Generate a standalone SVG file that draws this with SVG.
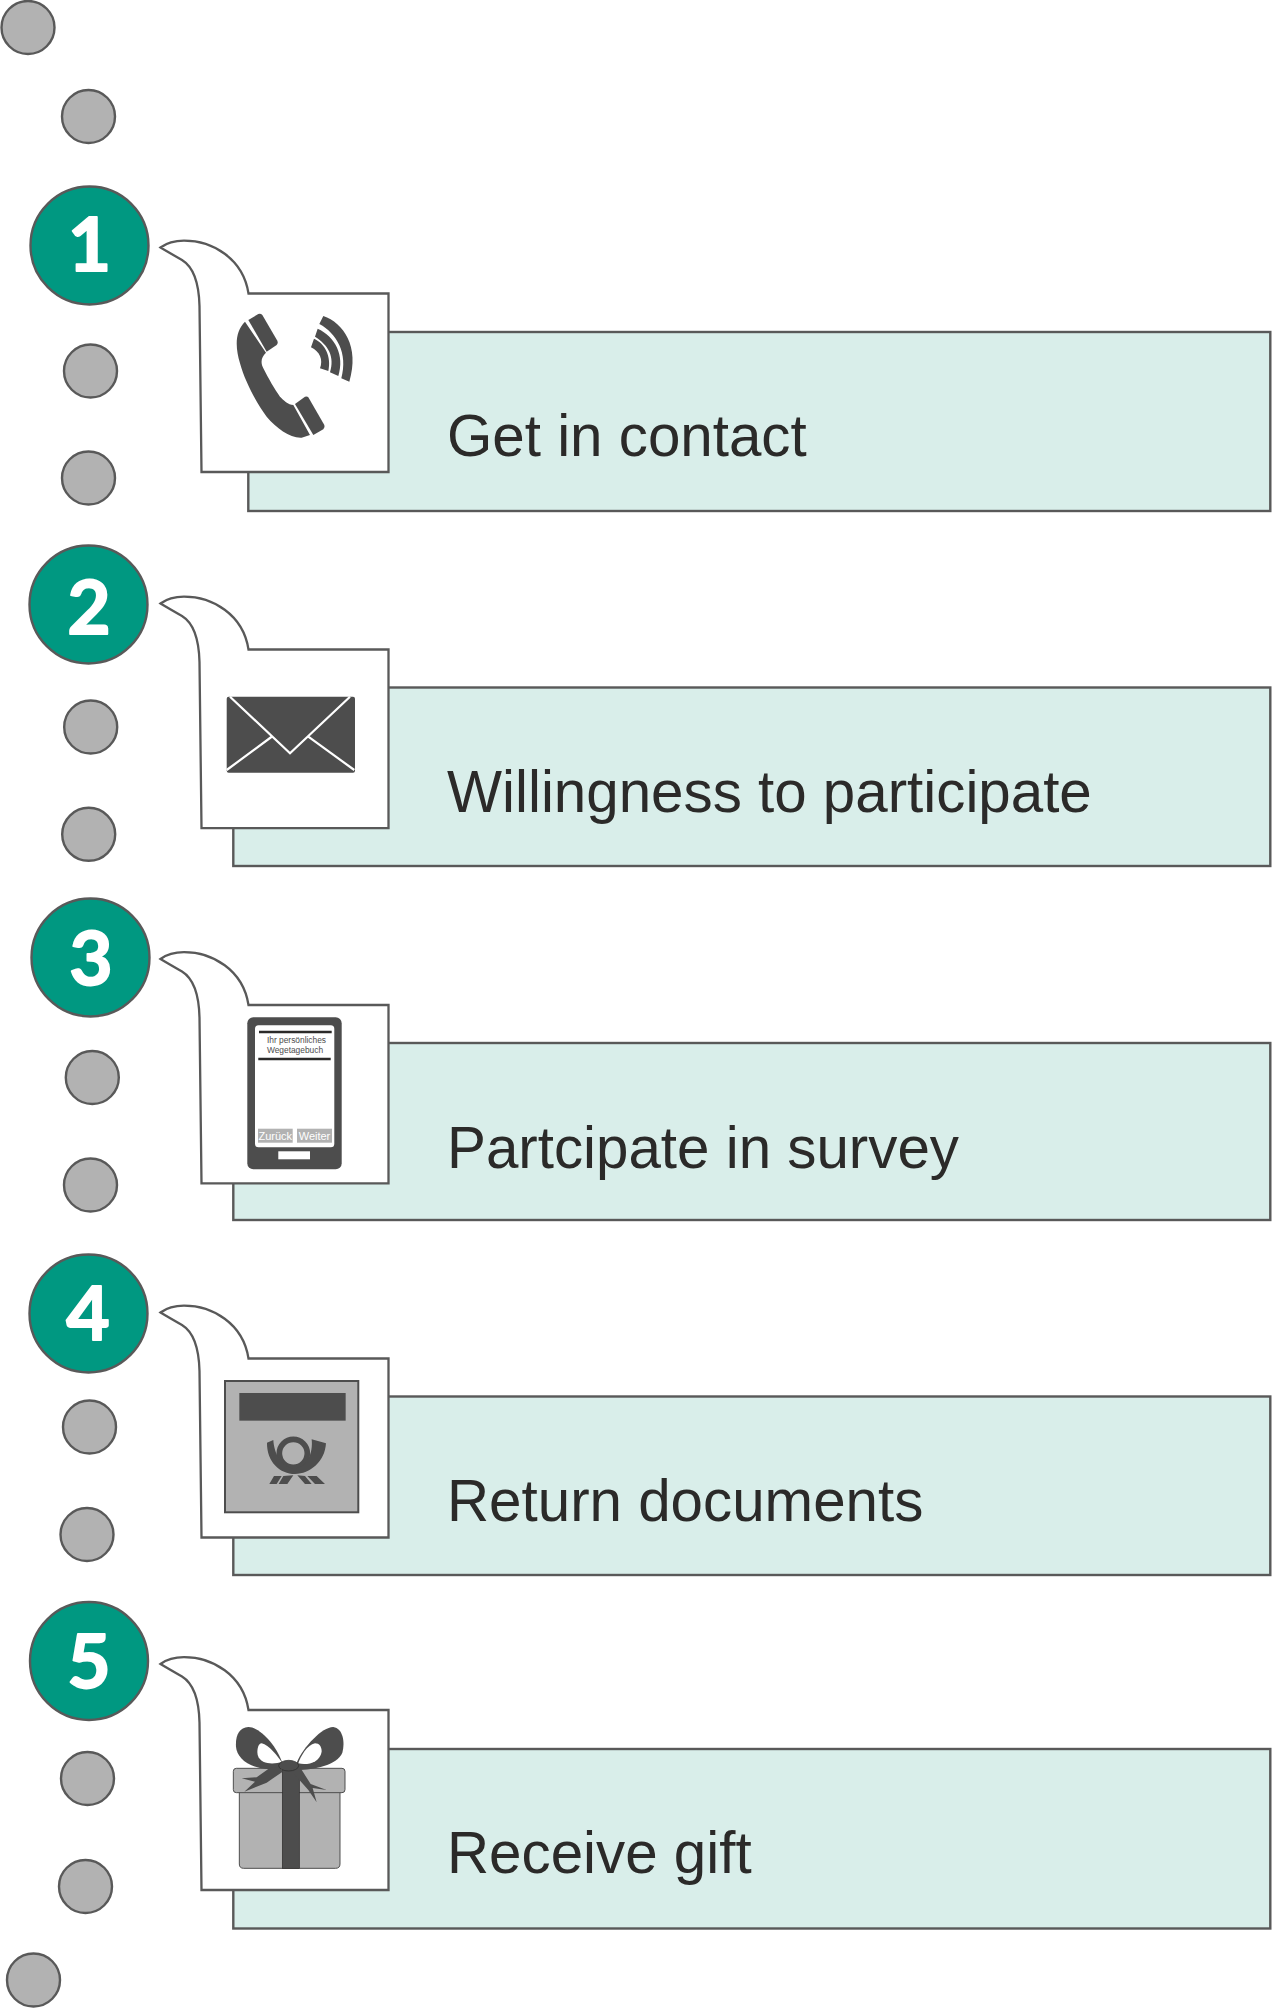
<svg xmlns="http://www.w3.org/2000/svg" width="1272" height="2008" viewBox="0 0 1272 2008">
<style>
.dot{fill:#b2b2b2;stroke:#595959;stroke-width:2.4}
.num{fill:#009881;stroke:#595959;stroke-width:2.4}
.n{font-family:"Lato","Open Sans",sans-serif;font-weight:700;font-size:75px;fill:#fff;stroke:#fff;stroke-width:1.8;stroke-linejoin:round;text-anchor:middle}
.bar{fill:#d9eeea;stroke:#595959;stroke-width:2.4}
.bub{fill:#fff;stroke:#595959;stroke-width:2.3;stroke-linejoin:miter}
.lbl{font-family:"Liberation Sans",Arial,sans-serif;font-size:58.3px;fill:#2b2a29}
.ic{fill:#4d4d4d}
.sm{font-family:"Liberation Sans",Arial,sans-serif;text-anchor:middle}
</style>
<rect width="1272" height="2008" fill="#fff"/>
<g id="dots">
<circle class="dot" cx="28" cy="27.5" r="26.5"/>
<circle class="dot" cx="88.5" cy="116.5" r="26.5"/>
<circle class="dot" cx="90.5" cy="371" r="26.5"/>
<circle class="dot" cx="88.5" cy="478" r="26.5"/>
<circle class="dot" cx="90.7" cy="727" r="26.5"/>
<circle class="dot" cx="88.7" cy="834.3" r="26.5"/>
<circle class="dot" cx="92.3" cy="1077.5" r="26.5"/>
<circle class="dot" cx="90.5" cy="1185" r="26.5"/>
<circle class="dot" cx="89.5" cy="1427" r="26.5"/>
<circle class="dot" cx="87" cy="1534.5" r="26.5"/>
<circle class="dot" cx="87.5" cy="1778.5" r="26.5"/>
<circle class="dot" cx="85.5" cy="1886.5" r="26.5"/>
<circle class="dot" cx="33.5" cy="1980" r="26.5"/>
</g>
<g id="step1">
<circle class="num" cx="89.5" cy="245.5" r="59"/>
<text class="n" x="89.5" y="270.5">1</text>
<rect class="bar" x="248.3" y="332" width="1022" height="179"/>
<path class="bub" d="M160.5 247.5c7.5-5.5 15.5-6.8 23.5-6.8c28 0 59 17.3 64.5 52.8H388.5v178.5H201.5l-2-166c-.5-21-4.5-38-17.5-46c-7-4-14-8-21.5-12.5z"/>
<g class="ic" transform="translate(230 300) scale(.3333)">
<path d="M45 65C15 95 15 140 30 190C45 245 80 310 110 350C140 385 180 415 215 413L240 405L190 315C175 315 160 300 150 290C135 270 115 235 100 205C90 185 95 170 108 158Z"/>
<path d="M55 60L85 42Q92 40 97 45L142 122Q145 130 140 135L110 155Z"/>
<path d="M195 312L225 290Q232 288 235 292L283 375Q286 383 280 388L250 405Z"/>
<path d="M280 48C340 68 390 140 358 245L334 235C355 160 320 100 268 72Z"/>
<path d="M263 86C315 110 345 165 325 228L300 217C315 170 295 135 255 110Z"/>
<path d="M252 116C285 130 305 170 295 213L270 205C280 180 270 155 243 142Z"/>
</g>
<text class="lbl" x="447" y="455.5">Get in contact</text>
</g>
<g id="step2">
<circle class="num" cx="88.5" cy="604.5" r="59"/>
<text class="n" x="89" y="634">2</text>
<rect class="bar" x="233.3" y="687.5" width="1037" height="178.5"/>
<path class="bub" d="M160.5 603.5c7.5-5.5 15.5-6.8 23.5-6.8c28 0 59 17.3 64.5 52.8H388.5v178.7H201.5l-2-166.2c-.5-21-4.5-38-17.5-46c-7-4-14-8-21.5-12.5z"/>
<rect class="ic" x="226.7" y="696.7" width="128.3" height="76" rx="2"/>
<path d="M230 696.7L290 753.3L350 696.7M226.7 770L272.7 736M354.3 770L308.3 736.7" fill="none" stroke="#fff" stroke-width="2.2"/>
<text class="lbl" x="447" y="812">Willingness to participate</text>
</g>
<g id="step3">
<circle class="num" cx="90.5" cy="957.5" r="59"/>
<text class="n" x="91" y="985">3</text>
<rect class="bar" x="233.3" y="1043" width="1037" height="177"/>
<path class="bub" d="M160.5 959c7.5-5.5 15.5-6.8 23.5-6.8c28 0 59 17.3 64.5 52.8H388.5v178.3H201.5l-2-165.8c-.5-21-4.5-38-17.500-46c-7-4-14-8-21.5-12.5z"/>
<rect class="ic" x="247.3" y="1017.3" width="94.4" height="152" rx="6"/>
<rect x="255" y="1025.3" width="79.3" height="122" rx="3.5" fill="#fff"/>
<path d="M259 1032H331.7M258.3 1059H330.7" stroke="#2b2a29" stroke-width="2.4" fill="none"/>
<text class="sm" x="296.5" y="1043" font-size="8.4" fill="#4d4d4d">Ihr persönliches</text>
<text class="sm" x="295" y="1053" font-size="8.4" fill="#4d4d4d">Wegetagebuch</text>
<rect x="258" y="1128.7" width="34.7" height="14" fill="#b2b2b2"/>
<rect x="297" y="1128.7" width="35" height="14" fill="#b2b2b2"/>
<text class="sm" x="275.3" y="1140" font-size="11" fill="#fff">Zurück</text>
<text class="sm" x="314.5" y="1140" font-size="11" fill="#fff">Weiter</text>
<rect x="278.3" y="1151.3" width="31.7" height="8" fill="#fff"/>
<text class="lbl" x="447" y="1168">Partcipate in survey</text>
</g>
<g id="step4">
<circle class="num" cx="88.5" cy="1313.5" r="59"/>
<text class="n" x="88" y="1340">4</text>
<rect class="bar" x="233.3" y="1396.5" width="1037" height="178.5"/>
<path class="bub" d="M160.5 1312.5c7.5-5.5 15.5-6.8 23.5-6.8c28 0 59 17.3 64.5 52.8H388.5v179H201.5l-2-166.5c-.5-21-4.5-38-17.5-46c-7-4-14-8-21.5-12.5z"/>
<rect x="225" y="1381" width="133.3" height="131.3" fill="#b2b2b2" stroke="#4d4d4d" stroke-width="2"/>
<g class="ic" transform="translate(200 1340) scale(.3333)">
<rect x="118" y="159" width="319" height="83"/>
<circle cx="280" cy="340" r="42" fill="none" stroke="#4d4d4d" stroke-width="17"/>
<path d="M201 308L220 300C222 340 245 385 285 385C320 385 340 340 335 298L378 310C375 365 330 402 285 402C240 402 200 365 201 308Z"/>
<path d="M222 408H245L230 432H208ZM250 408L280 406L262 432H236ZM292 406L315 408L335 432H315ZM322 408H350L375 432H345Z"/>
</g>
<text class="lbl" x="447" y="1521">Return documents</text>
</g>
<g id="step5">
<circle class="num" cx="89" cy="1661" r="59"/>
<text class="n" x="89" y="1688">5</text>
<rect class="bar" x="233.3" y="1749" width="1037" height="179.5"/>
<path class="bub" d="M160.5 1664c7.5-5.5 15.5-6.8 23.5-6.8c28 0 59 17.3 64.5 52.8H388.5v180H201.5l-2-167.5c-.5-21-4.5-38-17.5-46c-7-4-14-8-21.5-12.5z"/>
<g transform="translate(200 1700) scale(.3333)">
<path d="M118 270H420V492Q420 505 407 505H131Q118 505 118 492Z" fill="#b2b2b2" stroke="#4d4d4d" stroke-width="3"/>
<rect x="100" y="205" width="335" height="73" rx="9" fill="#b2b2b2" stroke="#4d4d4d" stroke-width="3"/>
<rect x="247" y="205" width="51" height="300" fill="#4d4d4d" stroke="#2b2a29" stroke-width="2"/>
<path d="M248 192C228 130 175 80 145 81C118 83 106 105 108 140C110 165 130 190 172 202C195 208 220 210 240 208Z" fill="#4d4d4d"/>
<path d="M185 130C207 135 232 168 245 186C225 192 182 196 173 165C170 148 175 130 185 130Z" fill="#fff"/>
<path d="M290 188C310 140 368 80 400 81C428 85 436 125 427 158C412 195 340 210 292 210Z" fill="#4d4d4d"/>
<path d="M345 130C322 135 302 168 295 190C322 197 360 187 365 155C365 140 358 130 345 130Z" fill="#fff"/>
<path d="M240 200L208 205L170 232L125 235L165 245L133 275L200 248L248 215ZM275 205L285 225L325 270L350 307L338 264L380 270L332 252L302 205Z" fill="#4d4d4d"/>
<ellipse cx="266" cy="197" rx="30" ry="16" fill="#4d4d4d" stroke="#2b2a29" stroke-width="2"/>
</g>
<text class="lbl" x="447" y="1873">Receive gift</text>
</g>
</svg>
